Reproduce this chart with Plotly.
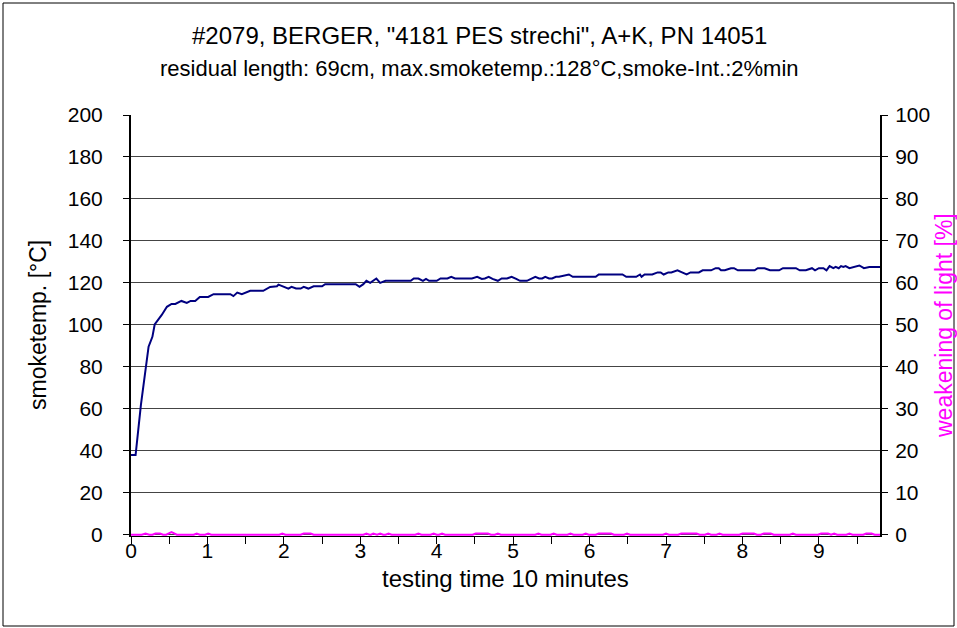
import plotly.graph_objects as go

# ---- data ----
temp_x = [0.00, 0.06, 0.13, 0.18, 0.23, 0.28, 0.31, 0.40, 0.47, 0.53, 0.58, 0.66, 0.73, 0.78, 0.84,
          0.90, 1.01, 1.08, 1.30, 1.34, 1.39, 1.45, 1.56, 1.73, 1.82, 1.91, 1.93, 2.06, 2.10, 2.16,
          2.22, 2.26, 2.32, 2.39, 2.50, 2.54, 2.94, 2.99, 3.04, 3.08, 3.13, 3.21, 3.26, 3.33, 3.66,
          3.70, 3.76, 3.82, 3.86, 3.90, 4.00, 4.05, 4.14, 4.19, 4.24, 4.46, 4.53, 4.59, 4.63, 4.68,
          4.73, 4.80, 4.85, 4.92, 4.98, 5.04, 5.09, 5.18, 5.29, 5.34, 5.38, 5.42, 5.47, 5.51, 5.56,
          5.60, 5.73, 5.78, 6.08, 6.12, 6.43, 6.48, 6.61, 6.66, 6.68, 6.72, 6.82, 6.89, 6.93, 6.97,
          7.03, 7.07, 7.15, 7.21, 7.27, 7.32, 7.43, 7.48, 7.59, 7.65, 7.69, 7.72, 7.77, 7.85, 7.89,
          7.94, 8.16, 8.20, 8.29, 8.36, 8.48, 8.53, 8.70, 8.75, 8.83, 8.91, 8.95, 9.00, 9.06, 9.10,
          9.14, 9.19, 9.22, 9.26, 9.29, 9.32, 9.35, 9.40, 9.53, 9.59, 9.66, 9.80]
temp_y = [38, 38, 62, 77, 89.6, 94.3, 100.2, 104.6, 108.6, 110, 110, 111.4, 110.5, 111.4, 111.4,
          113.3, 113.3, 114.6, 114.6, 113.7, 115.4, 114.6, 116.2, 116.2, 118.1, 118.4, 119.2, 117.3, 118.1, 117.3,
          117.3, 118.1, 117.3, 118.4, 118.4, 119.4, 119.4, 118.1, 119.4, 121, 120, 122.1, 120, 121, 121,
          122.1, 122.1, 121, 121.9, 121, 121, 122.1, 122.1, 122.9, 122.1, 122.1, 122.9, 121.9, 122.1, 122.9,
          121.9, 121, 122.1, 122.1, 122.9, 121.9, 121, 121, 122.9, 122.1, 122.1, 122.9, 122.1, 122.1, 122.9,
          122.9, 124, 122.9, 122.9, 124, 124, 122.9, 122.9, 124, 122.9, 124, 124, 125, 125, 124,
          125, 125, 126, 125, 124, 125, 125, 126, 126, 127, 127, 126, 126, 127, 127,
          126, 126, 127, 127, 126, 126, 127, 127, 126, 126, 127, 126, 127, 127, 126,
          128, 127, 127.6, 127, 128, 127.6, 128, 127, 128.3, 127, 127.6, 127.6]

light_x = [0.00, 0.14, 0.19, 0.24, 0.28, 0.32, 0.38, 0.42, 0.46, 0.53, 0.60, 0.82, 0.86, 0.90, 0.97,
           1.01, 1.05, 1.94, 1.98, 2.02, 2.22, 2.26, 2.35, 2.39, 3.04, 3.08, 3.12, 3.14, 3.17, 3.20,
           3.22, 3.26, 3.30, 3.33, 3.37, 3.41, 3.72, 3.76, 3.80, 3.92, 3.96, 4.00, 4.03, 4.07, 4.11,
           4.47, 4.51, 4.67, 4.71, 4.76, 4.80, 4.84, 5.29, 5.33, 5.37, 5.49, 5.53, 5.57, 5.71, 5.75,
           5.79, 5.91, 5.95, 5.99, 6.08, 6.12, 6.28, 6.32, 6.45, 6.49, 6.53, 6.96, 7.00, 7.04, 7.16,
           7.20, 7.40, 7.44, 7.51, 7.55, 7.59, 7.66, 7.70, 7.74, 7.96, 8.00, 8.15, 8.19, 8.24, 8.28,
           8.37, 8.41, 8.62, 8.66, 8.70, 8.99, 9.03, 9.12, 9.16, 9.20, 9.24, 9.36, 9.40, 9.44, 9.58,
           9.62, 9.69, 9.73, 9.80]
light_y = [0, 0, 0.3, 0, 0, 0.3, 0.3, 0, 0, 0.6, 0, 0, 0.3, 0, 0,
           0.3, 0, 0, 0.3, 0, 0, 0.3, 0.3, 0, 0, 0.3, 0, 0, 0.3, 0,
           0, 0.3, 0, 0, 0.3, 0, 0, 0.3, 0, 0, 0.3, 0, 0, 0.3, 0,
           0, 0.3, 0.3, 0, 0, 0.3, 0, 0, 0.3, 0, 0, 0.3, 0, 0, 0.3,
           0, 0, 0.3, 0, 0, 0.3, 0.3, 0, 0, 0.3, 0, 0, 0.3, 0, 0,
           0.3, 0.3, 0, 0, 0.3, 0, 0, 0.3, 0, 0, 0.3, 0.3, 0, 0, 0.3,
           0.3, 0, 0, 0.3, 0, 0, 0.3, 0.3, 0, 0.3, 0, 0, 0.3, 0, 0,
           0.3, 0.3, 0, 0]

x_tick_vals = [0, 1, 2, 3, 4, 5, 6, 7, 8, 9]
x_tick_text = ["0", "1", "2", "3", "4", "5", "6", "7", "8", "9"]

title_line1 = '#2079, BERGER, "4181 PES strechi", A+K, PN 14051'
title_line2 = 'residual length: 69cm, max.smoketemp.:128°C,smoke-Int.:2%min'
x_title = "testing time 10 minutes"
y_title = "smoketemp. [°C]"
y2_title = "weakening of light [%]"

FONT = "Liberation Sans, Arial, sans-serif"
W, H = 957, 628
L, R, T, B = 131, 77, 115, 92
PW = W - L - R
PH = H - T - B


def px_x(x):
    return (x - L) / PW


def px_y(y):
    return (H - B - y) / PH


fig = go.Figure()
fig.add_trace(go.Scatter(x=temp_x, y=temp_y, mode="lines",
                         line=dict(color="#000080", width=2), yaxis="y", showlegend=False))
fig.add_trace(go.Scatter(x=light_x, y=light_y, mode="lines",
                         line=dict(color="#FF00FF", width=2), yaxis="y2", showlegend=False))

fig.update_layout(
    width=W, height=H,
    margin=dict(l=L, r=R, t=T, b=B, pad=0),
    paper_bgcolor="white", plot_bgcolor="white",
    font=dict(family=FONT, size=21, color="black"),
    xaxis=dict(range=[0, 9.8], tickmode="array", tickvals=x_tick_vals, ticktext=x_tick_text,
               ticks="outside", ticklen=7, tickcolor="black", tickwidth=1,
               showline=True, linecolor="black", linewidth=1, showgrid=False, zeroline=False,
               layer="below traces", tickfont=dict(size=21), ticklabelstandoff=-11,
               minor=dict(tickmode="linear", tick0=0, dtick=0.5, ticks="outside", ticklen=7,
                          tickcolor="black", tickwidth=1, showgrid=False)),
    yaxis=dict(range=[-0.6, 200], tickmode="linear", tick0=0, dtick=20,
               ticks="outside", ticklen=6, tickcolor="black",
               showline=True, linecolor="black", linewidth=2, mirror=False,
               showgrid=True, gridcolor="#444444", gridwidth=1, zeroline=False,
               tickfont=dict(size=21), ticklabelstandoff=16),
    yaxis2=dict(range=[-0.3, 100], tickmode="linear", tick0=0, dtick=10, overlaying="y", side="right",
                ticks="outside", ticklen=6, tickcolor="black",
                showline=True, linecolor="black", linewidth=2,
                showgrid=False, zeroline=False, tickfont=dict(size=21), ticklabelstandoff=3),
    annotations=[
        dict(text=title_line1, xref="paper", yref="paper", x=px_x(479), y=px_y(35),
             xanchor="center", yanchor="middle", showarrow=False, font=dict(size=24)),
        dict(text=title_line2, xref="paper", yref="paper", x=px_x(479), y=px_y(68),
             xanchor="center", yanchor="middle", showarrow=False, font=dict(size=22)),
        dict(text=x_title, xref="paper", yref="paper", x=px_x(505), y=px_y(578),
             xanchor="center", yanchor="middle", showarrow=False, font=dict(size=24)),
        dict(text=y_title, xref="paper", yref="paper", x=px_x(38), y=px_y(325), textangle=-90,
             xanchor="center", yanchor="middle", showarrow=False, font=dict(size=23)),
        dict(text=y2_title, xref="paper", yref="paper", x=px_x(944), y=px_y(325), textangle=-90,
             xanchor="center", yanchor="middle", showarrow=False, font=dict(size=23, color="#FF00FF")),
    ],
    shapes=[dict(type="rect", xref="paper", yref="paper", x0=px_x(3), x1=px_x(954),
                 y0=px_y(626), y1=px_y(3), line=dict(color="black", width=1), layer="below")],
)

fig.write_html("out.html", config={"displayModeBar": False},
               post_script="document.body.style.margin='0px';document.body.style.overflow='hidden';")
